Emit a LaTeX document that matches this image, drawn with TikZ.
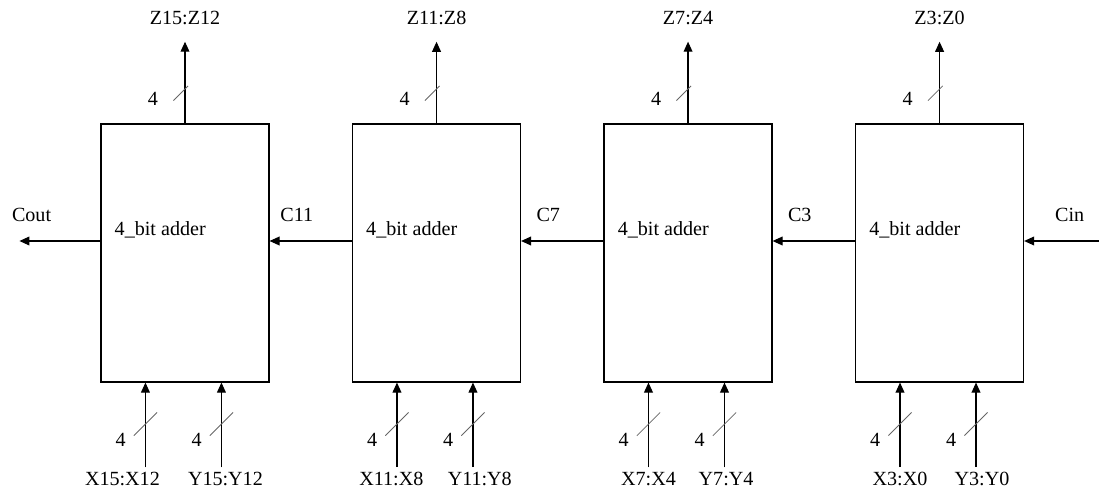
\documentclass[tikz,border=0pt]{standalone}
\usepackage{fontspec}
\setmainfont{Liberation Serif}
\usetikzlibrary{arrows.meta, positioning, decorations.markings}

\begin{document}
\begin{tikzpicture}[
  node distance=2.06cm,
  adder/.style={draw, line width=0.8pt, minimum width=4.2cm,
                minimum height=6.45cm},
  sig/.style={font=\fontsize{14.3}{16}\selectfont, inner sep=3pt},
  num/.style={sig, inner sep=1pt},
  tick/.style={-, draw=black!60, line width=0.6pt},
  arr/.style={-{Triangle[length=0.25cm, width=0.22cm]}, line width=0.8pt},
  bus/.style={postaction={decorate, decoration={markings,
      mark=at position #1 with {\draw[tick] (-0.29cm,0.29cm) -- (0.29cm,-0.29cm);}}}}
]
  \useasboundingbox (0,0) rectangle (27.475,-12.275);

  \node[adder] (A3) at (4.625,-6.325) {};
  \node[adder, right=of A3] (A2) {};
  \node[adder, right=of A2] (A1) {};
  \node[adder, right=of A1] (A0) {};

  \node[sig, anchor=west, inner sep=0pt] (t3) at ([shift={(0.35cm,0.57cm)}]A3.west) {4\_bit adder};
  \node[sig, anchor=west, inner sep=0pt] (t2) at ([shift={(0.35cm,0.57cm)}]A2.west) {4\_bit adder};
  \node[sig, anchor=west, inner sep=0pt] (t1) at ([shift={(0.35cm,0.57cm)}]A1.west) {4\_bit adder};
  \node[sig, anchor=west, inner sep=0pt] (t0) at ([shift={(0.35cm,0.57cm)}]A0.west) {4\_bit adder};

  % sum outputs
  \node[sig] (Z3) at ([yshift=2.625cm]A3.north) {Z15:Z12};
  \node[sig] (Z2) at ([yshift=2.625cm]A2.north) {Z11:Z8};
  \node[sig] (Z1) at ([yshift=2.625cm]A1.north) {Z7:Z4};
  \node[sig] (Z0) at ([yshift=2.625cm]A0.north) {Z3:Z0};
  \draw[arr, bus=0.86cm, shorten >=0.3cm] (A3) -- node[num, pos=0.26, xshift=-0.8cm] (n3z) {4} (Z3);
  \draw[arr, bus=0.86cm, shorten >=0.3cm] (A2) -- node[num, pos=0.26, xshift=-0.8cm] (n2z) {4} (Z2);
  \draw[arr, bus=0.86cm, shorten >=0.3cm] (A1) -- node[num, pos=0.26, xshift=-0.8cm] (n1z) {4} (Z1);
  \draw[arr, bus=0.86cm, shorten >=0.3cm] (A0) -- node[num, pos=0.26, xshift=-0.8cm] (n0z) {4} (Z0);

  % operand inputs (labels pushed apart where they are long)
  \node[sig] (X3) at ([shift={(0.55cm,-2.4cm)}]A3.south west) {X15:X12};
  \node[sig] (Y3) at ([shift={(3.125cm,-2.4cm)}]A3.south west) {Y15:Y12};
  \node[sig] (X2) at ([shift={(0.985cm,-2.4cm)}]A2.south west) {X11:X8};
  \node[sig] (Y2) at ([shift={(3.195cm,-2.4cm)}]A2.south west) {Y11:Y8};
  \node[sig] (X1) at ([shift={(1.125cm,-2.4cm)}]A1.south west) {X7:X4};
  \node[sig] (Y1) at ([shift={(3.065cm,-2.4cm)}]A1.south west) {Y7:Y4};
  \node[sig] (X0) at ([shift={(1.125cm,-2.4cm)}]A0.south west) {X3:X0};
  \node[sig] (Y0) at ([shift={(3.175cm,-2.4cm)}]A0.south west) {Y3:Y0};
  \draw[arr, bus=1.08cm] ([xshift=0.575cm]X3.north) -- node[num, pos=0.32, xshift=-0.62cm] (n3x) {4} ([xshift=0.575cm]X3.north |- A3.south);
  \draw[arr, bus=1.08cm] ([xshift=-0.1cm]Y3.north) -- node[num, pos=0.32, xshift=-0.62cm] (n3y) {4} ([xshift=-0.1cm]Y3.north |- A3.south);
  \draw[arr, bus=1.08cm] ([xshift=0.14cm]X2.north) -- node[num, pos=0.32, xshift=-0.62cm] (n2x) {4} ([xshift=0.14cm]X2.north |- A2.south);
  \draw[arr, bus=1.08cm] ([xshift=-0.17cm]Y2.north) -- node[num, pos=0.32, xshift=-0.62cm] (n2y) {4} ([xshift=-0.17cm]Y2.north |- A2.south);
  \draw[arr, bus=1.08cm] (X1) -- node[num, pos=0.32, xshift=-0.62cm] (n1x) {4} (X1 |- A1.south);
  \draw[arr, bus=1.08cm] ([xshift=-0.04cm]Y1.north) -- node[num, pos=0.32, xshift=-0.62cm] (n1y) {4} ([xshift=-0.04cm]Y1.north |- A1.south);
  \draw[arr, bus=1.08cm] (X0) -- node[num, pos=0.32, xshift=-0.62cm] (n0x) {4} (X0 |- A0.south);
  \draw[arr, bus=1.08cm] ([xshift=-0.15cm]Y0.north) -- node[num, pos=0.32, xshift=-0.62cm] (n0y) {4} ([xshift=-0.15cm]Y0.north |- A0.south);

  % carry chain
  \coordinate (cout) at ([shift={(-2.025cm,0.3cm)}]A3.west);
  \coordinate (cin)  at ([shift={(1.9cm,0.3cm)}]A0.east);
  \draw[arr] ([yshift=0.3cm]A3.west) -- node[sig, pos=0.85, above=0.36cm] (co) {Cout} (cout);
  \draw[arr] ([yshift=0.3cm]A2.west) -- node[sig, pos=0.67, above=0.36cm] (c11) {C11} ([yshift=0.3cm]A3.east);
  \draw[arr] ([yshift=0.3cm]A1.west) -- node[sig, pos=0.67, above=0.36cm] (c7) {C7} ([yshift=0.3cm]A2.east);
  \draw[arr] ([yshift=0.3cm]A0.west) -- node[sig, pos=0.67, above=0.36cm] (c3) {C3} ([yshift=0.3cm]A1.east);
  \draw[arr] (cin) -- node[sig, pos=0.4, above=0.36cm] (ci) {Cin} ([yshift=0.3cm]A0.east);
\end{tikzpicture}
\end{document}
